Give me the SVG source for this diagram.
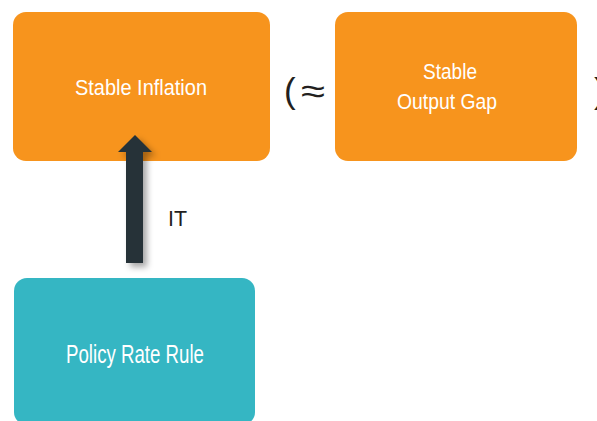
<svg xmlns="http://www.w3.org/2000/svg" width="597" height="421" viewBox="0 0 597 421">
  <defs>
    <style>
      .box-o { fill: #f7941d; }
      .box-t { fill: #35b6c3; }
      .lbl { font-family: "Liberation Sans", Arial, sans-serif; fill: #ffffff; text-anchor: middle; }
      .dark { font-family: "Liberation Sans", Arial, sans-serif; fill: #231f20; }
    </style>
    <filter id="shadow" x="-50%" y="-20%" width="200%" height="150%">
      <feDropShadow dx="4" dy="4" stdDeviation="3" flood-color="#000000" flood-opacity="0.35"/>
    </filter>
  </defs>
  <rect width="597" height="421" fill="#ffffff"/>

  <g id="node-stable-inflation">
    <rect class="box-o" x="13" y="12" width="257" height="149" rx="13" ry="13"/>
    <text class="lbl" x="141" y="95" font-size="22" textLength="132" lengthAdjust="spacingAndGlyphs">Stable Inflation</text>
  </g>

  <g id="node-output-gap">
    <rect class="box-o" x="335" y="12" width="242" height="149" rx="13" ry="13"/>
    <text class="lbl" x="450" y="79" font-size="22" textLength="54" lengthAdjust="spacingAndGlyphs">Stable</text>
    <text class="lbl" x="447" y="109" font-size="22" textLength="100" lengthAdjust="spacingAndGlyphs">Output Gap</text>
  </g>

  <g id="node-policy-rule">
    <rect class="box-t" x="14" y="278" width="241" height="147" rx="13" ry="13"/>
    <text class="lbl" x="135" y="363" font-size="25" textLength="138" lengthAdjust="spacingAndGlyphs">Policy Rate Rule</text>
  </g>

  <g id="symbols">
    <text class="dark" x="284" y="103" font-size="35">(</text>
    <text class="dark" x="301" y="103" font-size="35" textLength="24" lengthAdjust="spacingAndGlyphs">≈</text>
    <text class="dark" x="594" y="103" font-size="35">)</text>
  </g>

  <g id="connectors">
    <path d="M126 263 L126 152 L118 152 L135 135 L152 152 L143 152 L143 263 Z" fill="#263238" filter="url(#shadow)"/>
    <text class="dark" x="168" y="226" font-size="22" textLength="19" lengthAdjust="spacingAndGlyphs">IT</text>
  </g>
</svg>
